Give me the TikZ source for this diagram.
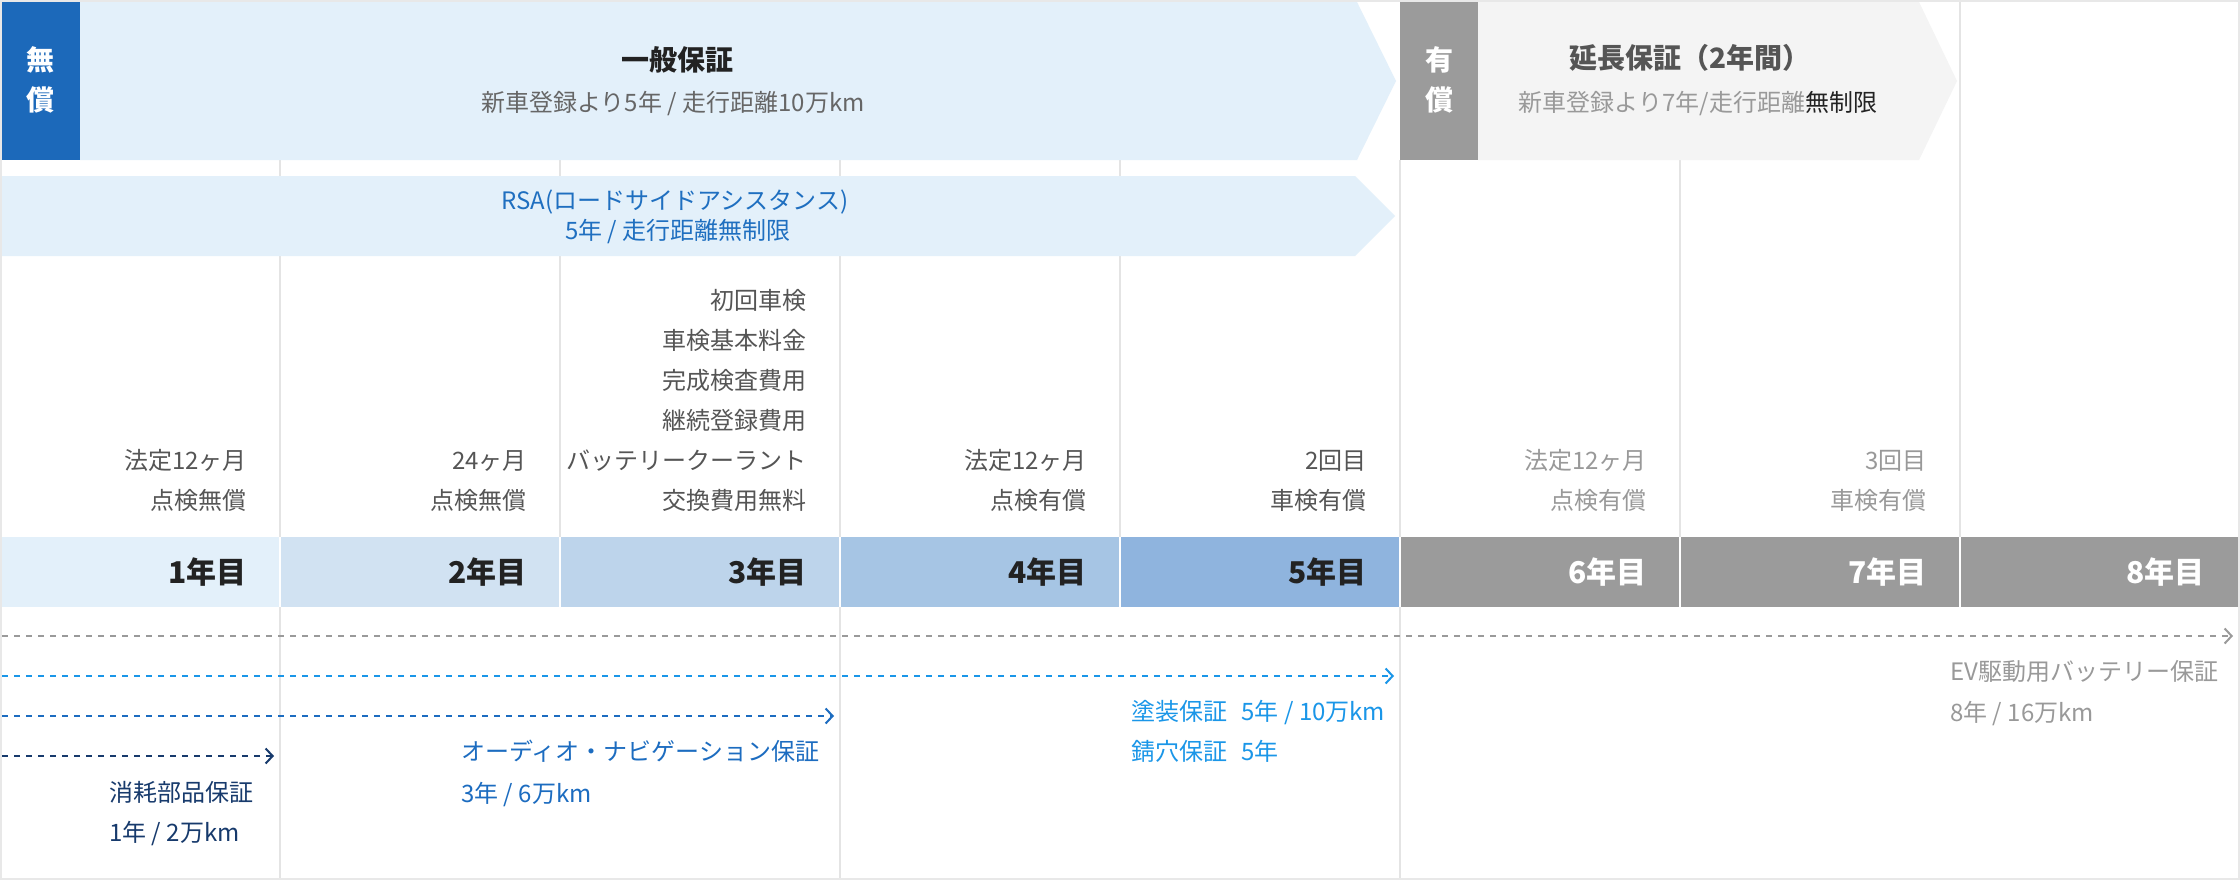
\documentclass[tikz,border=0pt]{standalone}
\usepackage{fontspec}
\setmainfont{Noto Sans CJK JP}
\usetikzlibrary{arrows.meta}
\definecolor{framegray}{HTML}{E8E8E8}
\definecolor{gridgray}{HTML}{E4E4E4}
\definecolor{bandblue}{HTML}{E3F0FA}
\definecolor{freeblue}{HTML}{1C69BA}
\definecolor{paygray}{HTML}{9B9B9B}
\definecolor{extgray}{HTML}{F4F4F4}
\definecolor{rsablue}{HTML}{1F6FC0}
\definecolor{yA}{HTML}{E3F0FA}
\definecolor{yB}{HTML}{D1E2F2}
\definecolor{yC}{HTML}{BDD4EB}
\definecolor{yD}{HTML}{A6C5E4}
\definecolor{yE}{HTML}{8FB4DE}
\definecolor{darktxt}{HTML}{222222}
\definecolor{midtxt}{HTML}{555555}
\definecolor{subtxt}{HTML}{666666}
\definecolor{lighttxt}{HTML}{999999}
\definecolor{navy}{HTML}{173A6C}
\definecolor{medblue}{HTML}{1C6CC0}
\definecolor{skyblue}{HTML}{1A96E8}
\definecolor{dashgray}{HTML}{9A9A9A}
\begin{document}
\begin{tikzpicture}[x=1pt,y=-1pt,
  txt/.style={inner sep=0pt, font=\fontsize{24}{28}\selectfont},
  colr/.style={txt, anchor=base east, text=midtxt},
  colrl/.style={txt, anchor=base east, text=lighttxt},
  yr/.style={inner sep=0pt, anchor=base east, font=\fontsize{30}{34}\selectfont\bfseries},
  lab/.style={txt, anchor=base west},
  ctr/.style={txt, anchor=base},
  ttl/.style={inner sep=0pt, anchor=base, font=\fontsize{28}{32}\selectfont\bfseries},
  dsh/.style={line width=2pt, dash pattern=on 6pt off 6pt,
    -{Straight Barb[length=7pt,width=15pt,line width=2pt]}},
  grid/.style={gridgray, line width=1.6pt}
]
\useasboundingbox (0,0) rectangle (2240,880);
\fill[white] (0,0) rectangle (2240,880);

% grid lines
\foreach \x in {280,560,840,1120,1400,1680,1960}{
  \draw[grid] (\x,160) -- (\x,537);
}
\draw[grid] (1960,0) -- (1960,160);
\foreach \x in {280,840,1400}{
  \draw[grid] (\x,607) -- (\x,880);
}

% top bands
\fill[bandblue] (80,2) -- (1357,2) -- (1396,81) -- (1357,160) -- (80,160) -- cycle;
\fill[freeblue] (2,2) rectangle (80,160);
\fill[paygray] (1400,2) rectangle (1478,160);
\fill[extgray] (1478,2) -- (1919,2) -- (1957,81) -- (1919,160) -- (1478,160) -- cycle;
\fill[bandblue] (2,176) -- (1355,176) -- (1395,216) -- (1355,256) -- (2,256) -- cycle;

\node[ttl, text=white] (mu1) at (40,70.6) {無};
\node[ttl, text=white] (mu2) at (40,110.6) {償};
\node[ttl, text=white] (yu1) at (1439,70.6) {有};
\node[ttl, text=white] (yu2) at (1439,110.6) {償};
\node[ttl, text=darktxt] (gen) at (677,70.6) {一般保証};
\node[ctr, text=subtxt] (gensub) at (673,112) {新車登録より5年 / 走行距離10万km};
\node[ttl, text=midtxt] (ext) at (1690,68.6) {延長保証（2年間）};
\node[ctr, text=lighttxt] (extsub) at (1698,112) {新車登録より7年/走行距離\textcolor{darktxt}{無制限}};
\node[ctr, text=rsablue] (rsa1) at (675,209) {RSA(ロードサイドアシスタンス)};
\node[ctr, text=rsablue] (rsa2) at (678,239) {5年 / 走行距離無制限};

% column notes
\node[colr] (c1a) at (247,469) {法定12ヶ月};
\node[colr] (c1b) at (247,509) {点検無償};
\node[colr] (c2a) at (527,469) {24ヶ月};
\node[colr] (c2b) at (527,509) {点検無償};
\node[colr] (c3a) at (807,309) {初回車検};
\node[colr] (c3b) at (807,349) {車検基本料金};
\node[colr] (c3c) at (807,389) {完成検査費用};
\node[colr] (c3d) at (807,429) {継続登録費用};
\node[colr] (c3e) at (807,469) {バッテリークーラント};
\node[colr] (c3f) at (807,509) {交換費用無料};
\node[colr] (c4a) at (1087,469) {法定12ヶ月};
\node[colr] (c4b) at (1087,509) {点検有償};
\node[colr] (c5a) at (1367,469) {2回目};
\node[colr] (c5b) at (1367,509) {車検有償};
\node[colrl] (c6a) at (1647,469) {法定12ヶ月};
\node[colrl] (c6b) at (1647,509) {点検有償};
\node[colrl] (c7a) at (1927,469) {3回目};
\node[colrl] (c7b) at (1927,509) {車検有償};

% year row
\fill[yA] (2,537) rectangle (280,607);
\fill[yB] (280,537) rectangle (560,607);
\fill[yC] (560,537) rectangle (840,607);
\fill[yD] (840,537) rectangle (1120,607);
\fill[yE] (1120,537) rectangle (1400,607);
\fill[paygray] (1400,537) rectangle (2238,607);
\foreach \x in {280,560,840,1120,1400,1680,1960}{
  \draw[white, line width=1.6pt] (\x,537) -- (\x,607);
}
\node[yr, text=darktxt] (y1) at (247,583.5) {1年目};
\node[yr, text=darktxt] (y2) at (527,583.5) {2年目};
\node[yr, text=darktxt] (y3) at (807,583.5) {3年目};
\node[yr, text=darktxt] (y4) at (1087,583.5) {4年目};
\node[yr, text=darktxt] (y5) at (1367,583.5) {5年目};
\node[yr, text=white] (y6) at (1647,583.5) {6年目};
\node[yr, text=white] (y7) at (1927,583.5) {7年目};
\node[yr, text=white] (y8) at (2205,583.5) {8年目};

% dashed warranty arrows
\coordinate (gs) at (2,636);  \coordinate (ge) at (2233,636);
\coordinate (ss) at (2,676);  \coordinate (se) at (1394,676);
\coordinate (ms) at (2,716);  \coordinate (me) at (834,716);
\coordinate (ns) at (2,756);  \coordinate (ne) at (274,756);
\draw[dsh, dashgray] (gs) -- (ge);
\draw[dsh, skyblue] (ss) -- (se);
\draw[dsh, medblue] (ms) -- (me);
\draw[dsh, navy] (ns) -- (ne);

\node[lab, text=navy] (n1) at (109,801) {消耗部品保証};
\node[lab, text=navy] (n2) at (109,841) {1年 / 2万km};
\node[lab, text=medblue] (m1) at (461,760) {オーディオ・ナビゲーション保証};
\node[lab, text=medblue] (m2) at (461,802) {3年 / 6万km};
\node[lab, text=skyblue] (s1) at (1131,720) {塗装保証\hspace{0.6em}5年 / 10万km};
\node[lab, text=skyblue] (s2) at (1131,760) {錆穴保証\hspace{0.6em}5年};
\node[lab, text=lighttxt] (e1) at (1950,680) {EV駆動用バッテリー保証};
\node[lab, text=lighttxt] (e2) at (1950,721) {8年 / 16万km};

% outer frame
\draw[framegray, line width=2pt] (1,1) rectangle (2239,879);
\end{tikzpicture}
\end{document}
